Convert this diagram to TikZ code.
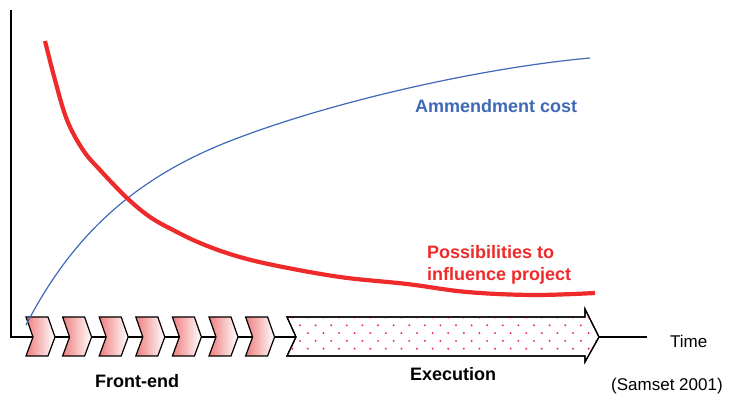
\documentclass[tikz,border=0pt]{standalone}
\usepackage{fontspec}
\setmainfont{Liberation Sans}
\definecolor{curvered}{HTML}{EE2A2A}
\definecolor{curveblue}{HTML}{3F69B6}
\definecolor{chevred}{HTML}{F07E7E}
\definecolor{dotred}{HTML}{F2304A}
\begin{document}
\begin{tikzpicture}[x=1pt,y=-1pt,
  axisline/.style={draw=black,line width=1.8pt},
  chevbox/.style={draw=black,line width=1.2pt,left color=chevred,right color=white},
  execbox/.style={draw=black,line width=1.2pt,fill=white},
  redcurve/.style={draw=curvered,line width=4.2pt},
  bluecurve/.style={draw=curveblue,line width=1.2pt},
  lab/.style={inner sep=0pt,anchor=base west,font=\fontsize{18}{21}\selectfont},
  blab/.style={lab,font=\fontsize{18}{21}\selectfont\bfseries}]
\useasboundingbox (0,0) rectangle (729,403);
% axes
\coordinate (ytop) at (11,10);
\coordinate (origin) at (11,337);
\coordinate (xend) at (647,337);
\draw[axisline] (ytop) -- (origin) -- (xend);
% chevrons
\foreach \i in {0,...,6}{
  \pgfmathsetmacro\xx{26+36.6*\i}
  \path[chevbox] (\xx,317) -- (\xx+22,317) -- (\xx+29,337) -- (\xx+22,356)
     -- (\xx,356) -- (\xx+7,337) -- cycle;
}
% execution arrow
\path[execbox] (287,317) -- (585,317) -- (585,309) -- (599,337) -- (585,362)
   -- (585,356) -- (287,356) -- (296,337) -- cycle;
\begin{scope}
\clip (287,317) -- (585,317) -- (585,309) -- (599,337) -- (585,362)
   -- (585,356) -- (287,356) -- (296,337) -- cycle;
\foreach \k in {0,...,5}{
  \pgfmathsetmacro\yy{317.5+7.8*\k}
  \pgfmathsetmacro\oo{7.8*mod(\k+1,2)}
  \foreach \j in {0,...,20}{
    \fill[dotred] (284.4+\oo+15.6*\j,\yy) circle (1.1);
  }
}
\end{scope}
\path[draw=black,line width=1.2pt] (287,317) -- (585,317) -- (585,309) -- (599,337) -- (585,362)
   -- (585,356) -- (287,356) -- (296,337) -- cycle;
% curves
\coordinate (bstart) at (26,325);
\coordinate (bmid) at (230,141);
\coordinate (bend) at (590,58);
\draw[bluecurve] (bstart) .. controls (70,240) and (130,180) .. (bmid)
  .. controls (330,102) and (480,68) .. (bend);
\draw[redcurve] plot[smooth,tension=0.6] coordinates {(45,41) (55,80) (67,120) (83,150) (100,170) (127,198) (150,217) (173,230) (200,243) (233,255) (273,265) (340,277) (407,284) (467,292) (533,295) (595,293)};
% labels
\node[blab,text=curveblue] (amm) at (415,113) {Ammendment cost};
\node[blab,text=curvered] (poss1) at (427,258.5) {Possibilities to};
\node[blab,text=curvered] (poss2) at (427,280.5) {influence project};
\node[lab,font=\fontsize{17}{20}\selectfont] (time) at (670,348) {Time};
\node[blab] (front) at (95,388) {Front-end};
\node[blab] (exec) at (410,380.5) {Execution};
\node[lab,font=\fontsize{17}{20}\selectfont] (src) at (611,391) {(Samset 2001)};
\end{tikzpicture}
\end{document}
